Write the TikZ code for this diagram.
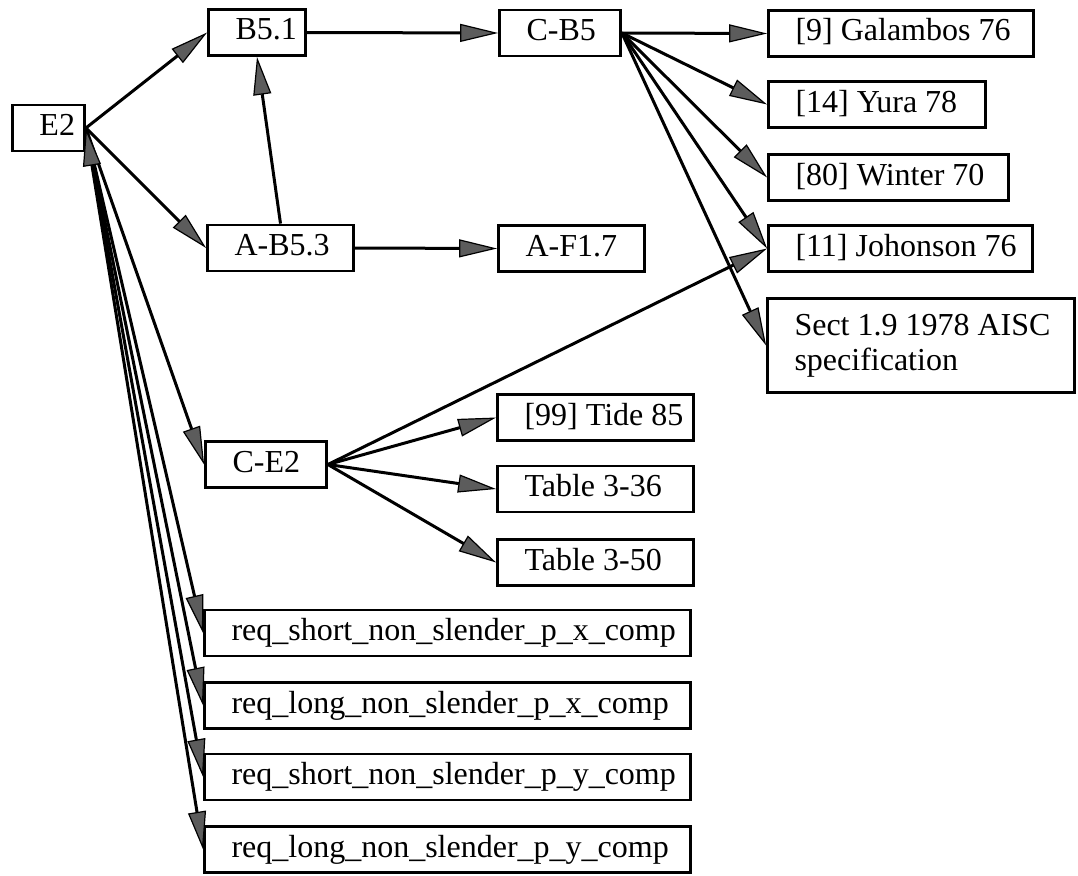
\documentclass[tikz,border=0pt]{standalone}
\usepackage{fontspec}
\setmainfont{Liberation Serif}
\usetikzlibrary{arrows.meta}
\definecolor{tipgray}{gray}{0.36}
% fixed-width box content, text set flush left after a fixed indent
\newcommand\boxtext[2]{\makebox[#1pt][l]{\hspace*{27pt}#2}}

\begin{document}
\begin{tikzpicture}[x=1pt,y=-1pt,
  >={Triangle[length=38pt,width=18pt,line width=1.2pt,fill=tipgray]},
  bx/.style={draw, line width=2.8pt, inner xsep=0pt, inner ysep=0pt,
    minimum height=46pt, text height=22pt, text depth=7pt,
    font=\fontsize{32}{35}\selectfont},
  bxtall/.style={draw, line width=2.8pt, inner xsep=0pt, inner ysep=0pt,
    minimum height=94pt, font=\fontsize{32}{35}\selectfont},
  link/.style={line width=3pt, ->},
]
\useasboundingbox (0,0) rectangle (1078,875);

% nodes
\node[bx] (e2)   at (48.5,128)   {\boxtext{72}{E2}};
\node[bx] (b51)  at (257,32.5)   {\boxtext{97}{B5.1}};
\node[bx] (cb5)  at (560,33)     {\boxtext{121}{C-B5}};
\node[bx] (ab53) at (280.5,248)  {\boxtext{146}{A-B5.3}};
\node[bx] (af17) at (571.5,248.5){\boxtext{146}{A-F1.7}};

\node[bx] (gal)  at (901,33.5)   {\boxtext{265}{[9] Galambos 76}};
\node[bx] (yura) at (877,104.5)  {\boxtext{217}{[14] Yura 78}};
\node[bx] (win)  at (888.5,177.5){\boxtext{240}{[80] Winter 70}};
\node[bx] (joh)  at (900.5,248.5){\boxtext{264}{[11] Johonson 76}};
\node[bxtall] (sect) at (921,345.5)
  {\boxtext{307}{\begin{tabular}{@{}l@{}}Sect 1.9 1978 AISC\\specification\end{tabular}}};

\node[bx] (ce2)  at (266,464.5)  {\boxtext{121}{C-E2}};
\node[bx] (tide) at (595.5,417.5){\boxtext{196}{[99] Tide 85}};
\node[bx] (t336) at (595.5,489)  {\boxtext{196}{Table 3-36}};
\node[bx] (t350) at (595.5,562.5){\boxtext{196}{Table 3-50}};

\node[bx] (rsx) at (447.5,633)   {\boxtext{486}{req\_short\_non\_slender\_p\_x\_comp}};
\node[bx] (rlx) at (447.5,705.5) {\boxtext{486}{req\_long\_non\_slender\_p\_x\_comp}};
\node[bx] (rsy) at (447.5,777)   {\boxtext{486}{req\_short\_non\_slender\_p\_y\_comp}};
\node[bx] (rly) at (447.5,849.5) {\boxtext{486}{req\_long\_non\_slender\_p\_y\_comp}};

% connectors
\draw[link] (e2.east) -- (b51.west);
\draw[link] (e2.east) -- (ab53.west);
\draw[link] (ab53.north) -- (b51.south);
\draw[link] (b51.east) -- (cb5.west);
\draw[link] (ab53.east) -- (af17.west);

\draw[link] (cb5.east) -- (gal.west);
\draw[link] (cb5.east) -- (yura.west);
\draw[link] (cb5.east) -- (win.west);
\draw[link] (cb5.east) -- (joh.west);
\draw[link] (cb5.east) -- (sect.west);

\draw[link] (e2.east) -- (ce2.west);
\draw[link] (ce2.east) -- (joh.west);
\draw[link] (ce2.east) -- (tide.west);
\draw[link] (ce2.east) -- (t336.west);
\draw[link] (ce2.east) -- (t350.west);

\draw[link] (e2.east) -- (rsx.west);
\draw[link] (e2.east) -- (rlx.west);
\draw[link] (e2.east) -- (rsy.west);
\draw[link, <->] (e2.east) -- (rly.west);
\end{tikzpicture}
\end{document}
